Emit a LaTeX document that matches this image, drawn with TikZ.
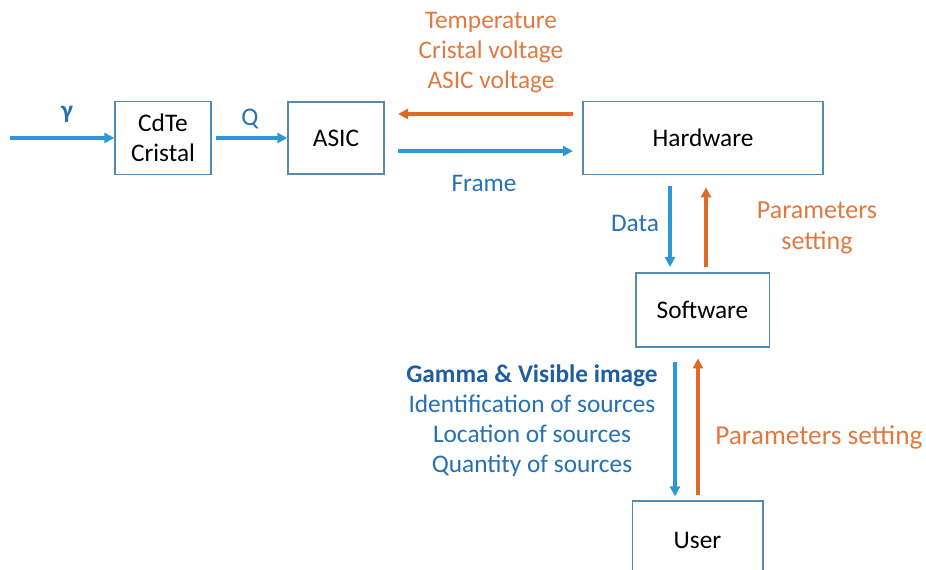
\documentclass[tikz,border=0pt]{standalone}
\usepackage{fontspec}
\setmainfont{Carlito}
\usepackage{tikz}
\usetikzlibrary{arrows.meta}
\definecolor{boxline}{RGB}{84,138,182}
\definecolor{bluearrow}{RGB}{45,152,214}
\definecolor{orangearrow}{RGB}{222,108,40}
\definecolor{bluetext}{RGB}{38,112,180}
\definecolor{darkbluetext}{RGB}{30,94,160}
\definecolor{orangetext}{RGB}{222,122,64}
\tikzset{
	blk/.style={draw=boxline,line width=1pt,fill=white,inner sep=0pt,align=center,text=black},
	bluearr/.style={draw=bluearrow,line width=2.5pt,-{Triangle[length=7.5pt,width=7.5pt]}},
	orangearr/.style={draw=orangearrow,line width=2.5pt,-{Triangle[length=7.5pt,width=7.5pt]}},
	bluelbl/.style={text=bluetext,align=center,inner sep=0pt},
	orangelbl/.style={text=orangetext,align=center,inner sep=0pt}
}
\begin{document}
\begin{tikzpicture}[x=0.75pt,y=-0.75pt,font=\fontsize{19}{22.5}\selectfont]
			\clip (0,0) rectangle (926,570);
			\node [blk,minimum width=72pt,minimum height=55pt] (cdte) at (163,138) {CdTe\\Cristal};
			\node [blk,minimum width=72pt,minimum height=54pt] (asic) at (336,138) {ASIC};
			\node [blk,minimum width=180pt,minimum height=55pt] (hw) at (703,138) {Hardware};
			\node [blk,minimum width=100pt,minimum height=55.5pt] (sw) at (702.5,310) {Software};
			\node [blk,minimum width=98pt,minimum height=58.5pt] (user) at (697.5,540) {User};
			\coordinate (src) at (10,138);
			\draw [bluearr] (src) -- (cdte.west);
			\draw [bluearr,shorten <=3pt] (cdte.east) -- (asic.west);
			\draw [orangearr,shorten <=7pt,shorten >=10pt] (hw.west |- 0,114) -- (asic.east |- 0,114);
			\draw [bluearr,shorten <=10pt,shorten >=7pt] (asic.east |- 0,151) -- (hw.west |- 0,151);
			\draw [bluearr,shorten <=8pt,shorten >=4pt] (hw.south -| 670,0) -- (sw.north -| 670,0);
			\draw [orangearr,shorten <=4pt,shorten >=9pt] (sw.north -| 706,0) -- (hw.south -| 706,0);
			\draw [bluearr,shorten <=11pt,shorten >=3pt] (sw.south -| 675,0) -- (user.north -| 675,0);
			\draw [orangearr,shorten <=4pt,shorten >=8pt] (user.north -| 698,0) -- (sw.south -| 698,0);
			\node [bluelbl] (gammalbl) at (67,114) {\textbf{γ}};
			\node [bluelbl] (qlbl) at (250,119) {Q};
			\node [orangelbl] (hwparams) at (491,53) {Temperature\\Cristal voltage\\ASIC voltage};
			\node [bluelbl] (framelbl) at (484,183) {Frame};
			\node [bluelbl] (datalbl) at (635,223) {Data};
			\node [orangelbl,font=\fontsize{19.5}{23}\selectfont] (swparams) at (817,228) {Parameters\\setting};
			\node [bluelbl] (results) at (532,421) {\textcolor{darkbluetext}{\textbf{Gamma \& Visible image}}\\Identification of sources\\Location of sources\\Quantity of sources};
			\node [orangelbl,anchor=west,font=\fontsize{20.5}{24}\selectfont] (userparams) at (715,437) {Parameters setting};
		\end{tikzpicture}
\end{document}
